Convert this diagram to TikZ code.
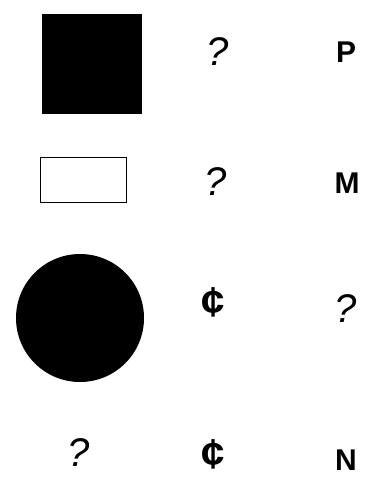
\documentclass[tikz,border=0pt]{standalone}
\usepackage{fontspec}
\setmainfont{Liberation Sans}
\usetikzlibrary{positioning}

\begin{document}
\begin{tikzpicture}[
    x=1pt, y=-1pt,
    solid/.style={fill=black, draw=none, inner sep=0pt},
    sym/.style={inner sep=0pt, font=\fontsize{42}{42}\selectfont\bfseries},
    quest/.style={inner sep=0pt, font=\fontsize{40}{40}\selectfont\itshape},
    letter/.style={inner sep=0pt, font=\fontsize{30}{30}\selectfont\bfseries}
]
    \useasboundingbox (0,0) rectangle (370,481);

    % shapes in the left column
    \node[solid, rectangle, minimum width=100pt, minimum height=100pt] (square) at (92,64) {};
    \node[draw, line width=1.2pt, rectangle, inner sep=0pt, minimum width=86pt, minimum height=45pt] (box) at (83.5,180) {};
    \node[solid, circle, minimum size=128pt] (disc) at (80,318) {};
    \node[quest] (q4) at (79,453) {?};

    % middle column
    \node[quest] (q1) at (218,52) {?};
    \node[quest] (q2) at (216,182) {?};
    \node[sym]   (c3) at (213,302) {¢};
    \node[sym]   (c4) at (213,454) {¢};

    % right column
    \node[letter] (p)  at (346,52)  {P};
    \node[letter] (m)  at (347,183) {M};
    \node[quest]  (q3) at (346,309) {?};
    \node[letter] (n)  at (346,460) {N};
\end{tikzpicture}
\end{document}
